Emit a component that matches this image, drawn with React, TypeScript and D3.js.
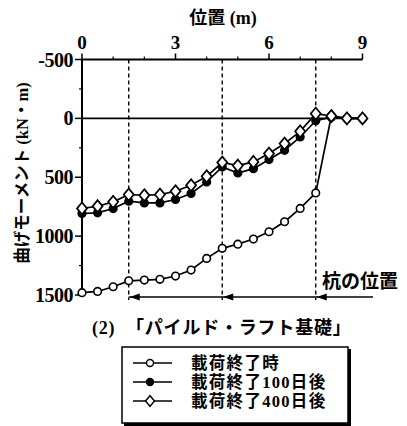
import React, { useEffect, useRef } from 'react';
import * as d3 from 'd3';

const positions = [0, 0.5, 1, 1.5, 2, 2.5, 3, 3.5, 4, 4.5, 5, 5.5, 6, 6.5, 7, 7.5, 8, 8.5, 9];
const momentEnd = [1480, 1470, 1430, 1380, 1373, 1367, 1339, 1288, 1189, 1104, 1068, 1025, 963, 878, 765, 633, -20, 0, 0];
const moment100 = [808, 802, 766, 703, 718, 718, 689, 638, 540, 413, 464, 427, 350, 271, 158, 20, -10, 0, 0];
const moment400 = [765, 746, 709, 647, 653, 647, 619, 568, 492, 375, 401, 370, 299, 214, 110, -40, -20, 0, 0];
const xTicks = [0, 3, 6, 9];
const yTicks = [-500, 0, 500, 1000, 1500];
const pilePositions = [1.5, 4.5, 7.5];
const legendLabels = ['載荷終了時', '載荷終了100日後', '載荷終了400日後'];

const FONT = '"Liberation Serif", "Noto Sans CJK JP", serif';

const App = () => {
  const ref = useRef(null);

  useEffect(() => {
    if (!ref.current) return;
    const svg = d3.select(ref.current);
    svg.selectAll('*').remove();

    const x = d3.scaleLinear().domain([0, 9]).range([82, 362.5]);
    const y = d3.scaleLinear().domain([-500, 1500]).range([59.5, 295]);

    const g = svg.append('g');

    // zero line
    g.append('line')
      .attr('x1', x(0)).attr('x2', x(9))
      .attr('y1', y(0)).attr('y2', y(0))
      .attr('stroke', '#000').attr('stroke-width', 1.8);

    // pile dashed lines
    g.selectAll('.pile')
      .data(pilePositions)
      .enter().append('line')
      .attr('x1', d => x(d)).attr('x2', d => x(d))
      .attr('y1', y(-500)).attr('y2', 300)
      .attr('stroke', '#000').attr('stroke-width', 1.4)
      .attr('stroke-dasharray', '4,3');

    // top axis
    const top = g.append('g').attr('transform', `translate(0,${y(-500)})`);
    top.append('line').attr('x1', x(0)).attr('x2', x(9)).attr('stroke', '#000').attr('stroke-width', 2);
    top.selectAll('.maj').data(xTicks).enter().append('line')
      .attr('x1', d => x(d)).attr('x2', d => x(d)).attr('y1', 0).attr('y2', -6)
      .attr('stroke', '#000').attr('stroke-width', 1.5);
    top.selectAll('.min').data(d3.range(0, 9.01, 1).filter(v => v % 3 !== 0)).enter().append('line')
      .attr('x1', d => x(d)).attr('x2', d => x(d)).attr('y1', 0).attr('y2', -3)
      .attr('stroke', '#000').attr('stroke-width', 1.2);
    top.selectAll('.lab').data(xTicks).enter().append('text')
      .attr('x', d => x(d)).attr('y', -11)
      .attr('text-anchor', 'middle')
      .attr('font-family', FONT).attr('font-size', 19).attr('font-weight', 'bold')
      .text(d => d);

    // left axis
    const left = g.append('g').attr('transform', `translate(${x(0)},0)`);
    left.append('line').attr('y1', y(-500)).attr('y2', y(1500)).attr('stroke', '#000').attr('stroke-width', 2);
    left.selectAll('.maj').data(yTicks).enter().append('line')
      .attr('y1', d => y(d)).attr('y2', d => y(d)).attr('x1', 0).attr('x2', -7)
      .attr('stroke', '#000').attr('stroke-width', 1.5);
    left.selectAll('.min').data([-250, 250, 750, 1250]).enter().append('line')
      .attr('y1', d => y(d)).attr('y2', d => y(d)).attr('x1', 0).attr('x2', -3)
      .attr('stroke', '#000').attr('stroke-width', 1.2);
    left.selectAll('.lab').data(yTicks).enter().append('text')
      .attr('x', -9).attr('y', d => y(d)).attr('dy', '0.35em')
      .attr('text-anchor', 'end')
      .attr('font-family', FONT).attr('font-size', 20).attr('font-weight', 'bold')
      .attr('letter-spacing', -0.5)
      .text(d => d);

    // titles
    svg.append('text')
      .attr('x', 223).attr('y', 24).attr('text-anchor', 'middle')
      .attr('font-family', FONT).attr('font-size', 18).attr('font-weight', 'bold')
      .text('位置 (m)');
    svg.append('text')
      .attr('transform', 'translate(28,173) rotate(-90)')
      .attr('text-anchor', 'middle')
      .attr('font-family', FONT).attr('font-size', 16.5).attr('font-weight', 'bold')
      .text('曲げモーメント (kN・m)');

    // series
    const line = d3.line<number>().x((_, i) => x(positions[i])).y(d => y(d));
    const series = [
      { values: momentEnd, shape: 'circle', fill: '#fff' },
      { values: moment100, shape: 'circle', fill: '#000' },
      { values: moment400, shape: 'diamond', fill: '#fff' },
    ];
    series.forEach(s => {
      g.append('path').datum(s.values).attr('d', line)
        .attr('fill', 'none').attr('stroke', '#000').attr('stroke-width', 1.7);
      if (s.shape === 'circle') {
        g.selectAll(null).data(s.values).enter().append('circle')
          .attr('cx', (_, i) => x(positions[i])).attr('cy', d => y(d)).attr('r', 3.8)
          .attr('fill', s.fill).attr('stroke', '#000').attr('stroke-width', 1.6);
      } else {
        g.selectAll(null).data(s.values).enter().append('path')
          .attr('d', d3.symbol().type(d3.symbolDiamond2).size(64))
          .attr('transform', (d, i) => `translate(${x(positions[i])},${y(d)}) scale(1,1.2)`)
          .attr('fill', s.fill).attr('stroke', '#000').attr('stroke-width', 1.6);
      }
    });

    // pile arrows
    const arrowY = 297;
    g.append('line').attr('x1', x(pilePositions[0])).attr('x2', 373)
      .attr('y1', arrowY).attr('y2', arrowY).attr('stroke', '#000').attr('stroke-width', 1.6);
    g.selectAll('.head').data(pilePositions).enter().append('path')
      .attr('d', d => `M${x(d) + 1},${arrowY} l10,-3.5 l0,7 z`)
      .attr('fill', '#000');
    svg.append('text')
      .attr('x', 322).attr('y', 288)
      .attr('font-family', FONT).attr('font-size', 19).attr('font-weight', 'bold')
      .text('杭の位置');

    svg.append('text')
      .attr('x', 92).attr('y', 334)
      .attr('font-family', FONT).attr('font-size', 18).attr('font-weight', 'bold')
      .attr('letter-spacing', 0.8)
      .attr('xml:space', 'preserve')
      .text('(2)  「パイルド・ラフト基礎」');

    // legend
    const lg = svg.append('g');
    lg.append('rect').attr('x', 124).attr('y', 349).attr('width', 227).attr('height', 77)
      .attr('fill', '#000');
    lg.append('rect').attr('x', 122).attr('y', 347).attr('width', 226).attr('height', 76)
      .attr('fill', '#fff').attr('stroke', '#000').attr('stroke-width', 1.5);
    legendLabels.forEach((label, i) => {
      const cy = 363 + i * 19;
      lg.append('line').attr('x1', 133).attr('x2', 172).attr('y1', cy).attr('y2', cy)
        .attr('stroke', '#000').attr('stroke-width', 1.5);
      const s = series[i];
      if (s.shape === 'circle') {
        lg.append('circle').attr('cx', 150).attr('cy', cy).attr('r', 3.5)
          .attr('fill', s.fill).attr('stroke', '#000').attr('stroke-width', 1.4);
      } else {
        lg.append('path').attr('d', d3.symbol().type(d3.symbolDiamond2).size(50))
          .attr('transform', `translate(150,${cy}) scale(1,1.2)`)
          .attr('fill', '#fff').attr('stroke', '#000').attr('stroke-width', 1.4);
      }
      lg.append('text').attr('x', 191).attr('y', cy).attr('dy', '0.35em')
        .attr('font-family', FONT).attr('font-size', 16.5).attr('font-weight', 'bold')
        .attr('letter-spacing', 1.3)
        .text(label);
    });
  }, []);

  return (
    <svg ref={ref} width={407} height={426}
      style={{ position: 'absolute', left: 0, top: 0, background: '#fff' }} />
  );
};

export default App;
